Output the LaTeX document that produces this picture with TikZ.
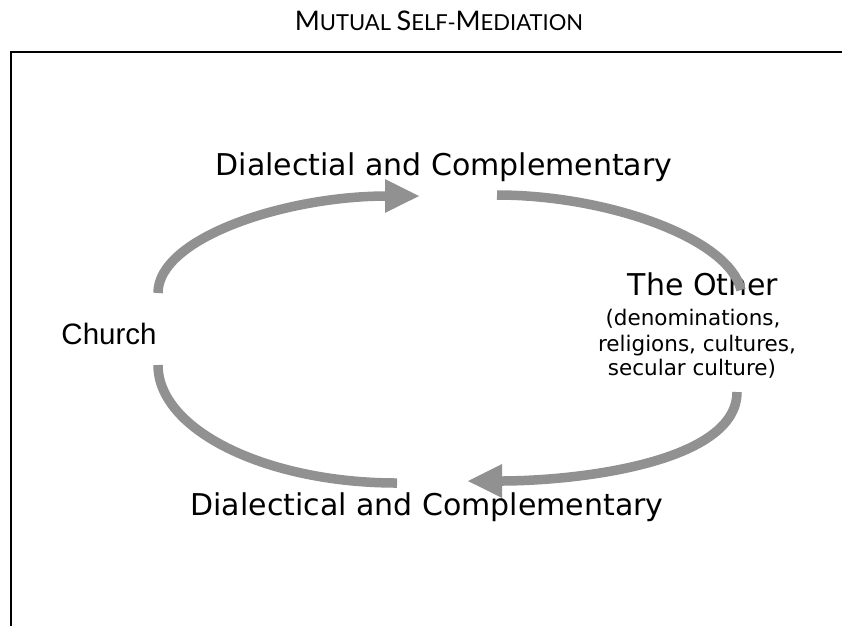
\documentclass[tikz,border=0pt]{standalone}
\usepackage{fontspec}
\setmainfont{DejaVu Sans}
\newfontfamily\titlefont{Lato}
\newfontfamily\churchfont{Liberation Sans}
\usetikzlibrary{arrows.meta}
\definecolor{arcgray}{RGB}{145,145,145}
\newcommand{\bigini}[1]{{\fontsize{27}{27}\selectfont #1}}

\begin{document}
\begin{tikzpicture}[x=1pt,y=-1pt,
  cyclearc/.style={draw=arcgray,line width=9.5pt},
  cyclehead/.style={-{Triangle[length=35pt,width=31pt]}},
  lbl/.style={anchor=base,inner sep=0pt,outer sep=0pt},
  bigtext/.style={lbl,font=\fontsize{30}{30}\selectfont},
  smalltext/.style={lbl,font=\fontsize{21.5}{21.5}\selectfont}]
\useasboundingbox (0,0) rectangle (842,625);
% frame
\draw[line width=2.5pt] (11,627) -- (11,52) -- (844,52);
% title
\node[lbl,font=\titlefont\fontsize{22}{22}\selectfont] (title) at (439,30)
  {\bigini{M}UTUAL \bigini{S}ELF-\bigini{M}EDIATION};
% labels
\node[bigtext] (dctop) at (444,175) {Dialectial and Complementary};
\node[bigtext] (dcbot) at (427,515) {Dialectical and Complementary};
\node[lbl,font=\churchfont\fontsize{29.5}{29.5}\selectfont] (church) at (109,344) {Church};
\node[bigtext] (other) at (703,295) {The Other};
\node[smalltext] (otherA) at (693,325) {(denominations,};
\node[smalltext] (otherB) at (697,351) {religions, cultures,};
\node[smalltext] (otherC) at (692,375) {secular culture)};
% arc ends
\coordinate (ulS) at (158,293);
\coordinate (ulE) at (420,196);
\coordinate (urS) at (497,195);
\coordinate (urE) at (741,290);
\coordinate (lrS) at (737,392);
\coordinate (lrE) at (467,481);
\coordinate (llS) at (158,365);
\coordinate (llE) at (397,483);
% arcs
\draw[cyclearc,cyclehead] (ulS) .. controls +(0,-55) and +(-135,0) .. (ulE);
\draw[cyclearc] (urS) .. controls +(110,0) and +(-12,-52) .. (urE);
\draw[cyclearc,cyclehead] (lrS) .. controls +(0,70) and +(113,0) .. (lrE);
\draw[cyclearc] (llS) .. controls +(0,65) and +(-131,0) .. (llE);
\end{tikzpicture}
\end{document}
